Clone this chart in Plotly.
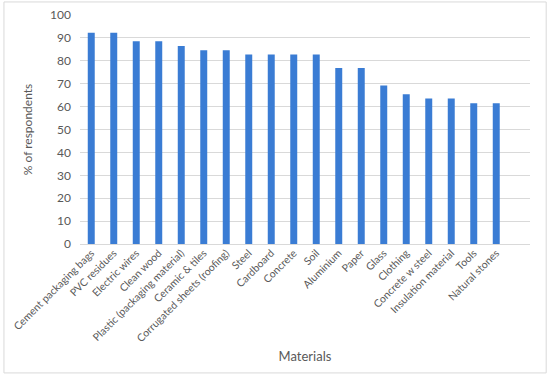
import plotly.graph_objects as go

materials = ["Cement packaging bags", "PVC residues", "Electric wires", "Clean wood",
             "Plastic (packaging material)", "Ceramic & tiles", "Corrugated sheets (roofing)",
             "Steel", "Cardboard", "Concrete", "Soil", "Aluminium", "Paper", "Glass",
             "Clothing", "Concrete w steel", "Insulation material", "Tools", "Natural stones"]
percent = [92.3, 92.3, 88.5, 88.5, 86.5, 84.6, 84.6, 82.7, 82.7, 82.7, 82.7,
           76.9, 76.9, 69.2, 65.4, 63.5, 63.5, 61.5, 61.5]
y_ticks = [0, 10, 20, 30, 40, 50, 60, 70, 80, 90, 100]

FONT = "Lato"
GRAY = "#595959"

fig = go.Figure(go.Bar(x=list(range(len(materials))), y=percent,
                       marker=dict(color="#3a7cd4", line=dict(width=0)),
                       width=0.31))

fig.update_layout(
    width=550, height=380,
    margin=dict(l=80, r=20, t=15, b=136),
    paper_bgcolor="white", plot_bgcolor="white",
    showlegend=False,
    font=dict(family=FONT, color=GRAY, size=11),
    xaxis=dict(
        range=[-0.5, 19.5], automargin=False,
        tickmode="array", tickvals=list(range(len(materials))), ticktext=materials,
        tickangle=-45, tickfont=dict(size=10.5, color=GRAY, family=FONT),
        showgrid=False, zeroline=False, showline=False, ticks="",
        title=dict(text="Materials", font=dict(size=13, color=GRAY, family=FONT), standoff=8),
    ),
    yaxis=dict(
        range=[0, 100], tickvals=y_ticks, automargin=False,
        tickfont=dict(size=12, color=GRAY, family=FONT),
        showgrid=True, gridcolor="#d9d9d9", gridwidth=1,
        zeroline=True, zerolinecolor="#d9d9d9", zerolinewidth=1,
        showline=False, ticks="", ticklabelstandoff=8,
        title=dict(text="% of respondents", font=dict(size=12, color=GRAY, family=FONT), standoff=14),
    ),
    shapes=[dict(type="rect", xref="paper", yref="paper",
                 x0=-0.169, x1=1.036, y0=-0.563, y1=1.057,
                 line=dict(color="#d9d9d9", width=1), fillcolor="rgba(0,0,0,0)", layer="below")],
)

fig.write_html("out.html", config={"displayModeBar": False},
               post_script="document.body.style.margin='0';")
